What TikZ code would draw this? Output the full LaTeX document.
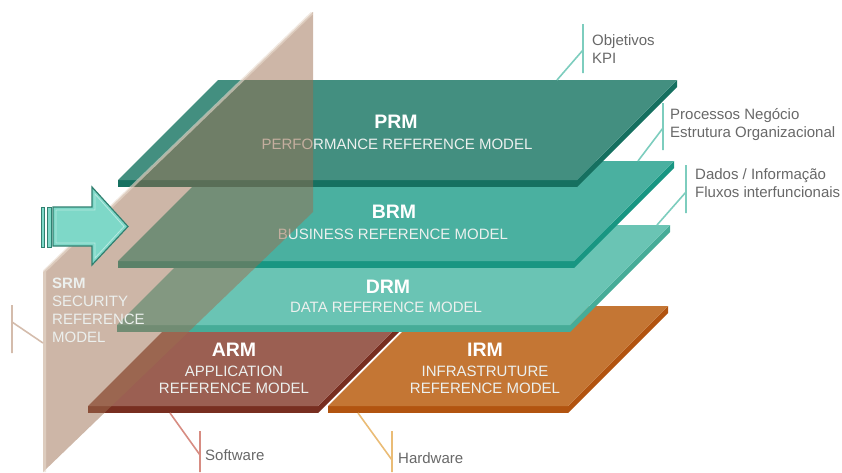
\documentclass[tikz,border=0pt]{standalone}
\usepackage{fontspec}
\setmainfont{Liberation Sans}
\usepackage{tikz}
\usetikzlibrary{positioning}

\definecolor{prmtop}{RGB}{67,143,128}
\definecolor{prmside}{RGB}{22,112,96}
\definecolor{brmtop}{RGB}{74,176,160}
\definecolor{brmside}{RGB}{24,150,130}
\definecolor{drmtop}{RGB}{106,196,180}
\definecolor{drmside}{RGB}{70,172,152}
\definecolor{armtop}{RGB}{155,95,82}
\definecolor{armside}{RGB}{120,46,32}
\definecolor{irmtop}{RGB}{196,118,52}
\definecolor{irmside}{RGB}{178,84,16}
\definecolor{srmfill}{RGB}{156,110,80}
\definecolor{srmedge}{RGB}{232,218,206}
\definecolor{arrowfill}{RGB}{126,216,200}
\definecolor{arrowline}{RGB}{48,128,112}
\definecolor{notegrey}{RGB}{104,104,104}
\definecolor{subwhite}{RGB}{236,240,238}
\definecolor{leadteal}{RGB}{125,205,190}
\definecolor{leadtan}{RGB}{212,188,172}
\definecolor{leadred}{RGB}{215,140,130}
\definecolor{leadgold}{RGB}{234,188,118}

% one layer: front left x, front right x, front y, top colour, edge colour
\newcommand{\refslab}[5]{%
  \fill[#5] (#1,#3) rectangle (#2,#3+7);
  \fill[#5] (#2,#3) -- (#2+100,#3-100) -- (#2+100,#3-93) -- (#2,#3+7) -- cycle;
  \fill[#4] (#1,#3) -- (#2,#3) -- (#2+100,#3-100) -- (#1+100,#3-100) -- cycle;
}

\tikzset{
  title/.style={font=\fontsize{19.5}{20}\selectfont\bfseries, text=white, inner sep=0pt},
  subtitle/.style={font=\fontsize{15}{17}\selectfont, text=subwhite, align=center, inner sep=0pt},
  srmtext/.style={font=\fontsize{15}{18}\selectfont, text=subwhite, align=left, inner sep=0pt, anchor=north west},
  note/.style={font=\fontsize{15}{18}\selectfont, text=notegrey, align=left, inner sep=0pt, anchor=north west},
  leader/.style={line width=1.6pt},
}

\begin{document}
\begin{tikzpicture}[x=1pt,y=-1pt]
\useasboundingbox (0,0) rectangle (842,472);

% layers, bottom first
\refslab{88}{318}{406}{armtop}{armside}
\refslab{328}{568}{406}{irmtop}{irmside}
\refslab{117}{570}{325}{drmtop}{drmside}
\refslab{118}{574}{261}{brmtop}{brmside}
\refslab{118}{577}{180}{prmtop}{prmside}

\node[title] (prm) at (396,122) {PRM};
\node[subtitle] (prmsub) at (397,144) {PERFORMANCE REFERENCE MODEL};
\node[title] (brm) at (394,212) {BRM};
\node[subtitle] (brmsub) at (393,234) {BUSINESS REFERENCE MODEL};
\node[title] (drm) at (388,287) {DRM};
\node[subtitle] (drmsub) at (386,307) {DATA REFERENCE MODEL};
\node[title] (arm) at (234,350) {ARM};
\node[subtitle] (armsub) at (234,380) {APPLICATION\\REFERENCE MODEL};
\node[title] (irm) at (485,350) {IRM};
\node[subtitle] (irmsub) at (485,380) {INFRASTRUTURE\\REFERENCE MODEL};

% security plane across the layers
\fill[srmfill, fill opacity=.5] (43,272) -- (313,12) -- (313,212) -- (43,472) -- cycle;
\draw[srmedge, line width=3pt, opacity=.6] (44.5,472) -- (44.5,271) -- (312,13);
\node[srmtext] (srm) at (52,278) {\textbf{SRM}\\SECURITY\\REFERENCE\\MODEL};

% arrow into the stack
\fill[arrowfill, draw=arrowline, line width=1pt] (41,207) rectangle (44.5,247);
\fill[arrowfill, draw=arrowline, line width=1pt] (47,207) rectangle (51,247);
\fill[arrowfill, draw=arrowline, line width=1.2pt] (53,207) -- (92,207) -- (92,187) -- (128,226.5)
  -- (92,265) -- (92,246) -- (53,246) -- cycle;
\draw[white, opacity=.45, line width=.8pt] (56,210) -- (95,210) -- (95,194) -- (124,226.5)
  -- (95,258) -- (95,243) -- (56,243) -- cycle;

% notes
\node[note] (kpi) at (592,34) {Objetivos\\KPI};
\node[note] (proc) at (670,108.5) {Processos Negócio\\Estrutura Organizacional};
\node[note] (dados) at (695,168) {Dados / Informação\\Fluxos interfuncionais};
\node[note] (soft) at (205,449) {Software};
\node[note] (hard) at (398,452.5) {Hardware};

\coordinate (kpitop) at (583,24);
\coordinate (kpibot) at (583,73);
\coordinate (kpimid) at (583,50);
\coordinate (kpifoot) at (557,80);
\coordinate (proctop) at (663,103);
\coordinate (procbot) at (663,150);
\coordinate (procmid) at (663,128);
\coordinate (procfoot) at (638,161);
\coordinate (dadostop) at (686,165);
\coordinate (dadosbot) at (686,213);
\coordinate (dadosmid) at (686,192);
\coordinate (dadosfoot) at (657,225);
\coordinate (srmtop) at (12,305);
\coordinate (srmbot) at (12,353);
\coordinate (srmmid) at (12,322);
\coordinate (srmfoot) at (43,343);
\coordinate (softtop) at (200,431);
\coordinate (softbot) at (200,472);
\coordinate (softmid) at (200,455);
\coordinate (softfoot) at (170,413);
\coordinate (hardtop) at (392,431);
\coordinate (hardbot) at (392,472);
\coordinate (hardmid) at (392,460);
\coordinate (hardfoot) at (358,413);

\draw[leader, leadteal] (kpitop) -- (kpibot) (kpimid) -- (kpifoot);
\draw[leader, leadteal] (proctop) -- (procbot) (procmid) -- (procfoot);
\draw[leader, leadteal] (dadostop) -- (dadosbot) (dadosmid) -- (dadosfoot);
\draw[leader, leadtan] (srmtop) -- (srmbot) (srmmid) -- (srmfoot);
\draw[leader, leadred] (softtop) -- (softbot) (softmid) -- (softfoot);
\draw[leader, leadgold] (hardtop) -- (hardbot) (hardmid) -- (hardfoot);
\end{tikzpicture}
\end{document}
